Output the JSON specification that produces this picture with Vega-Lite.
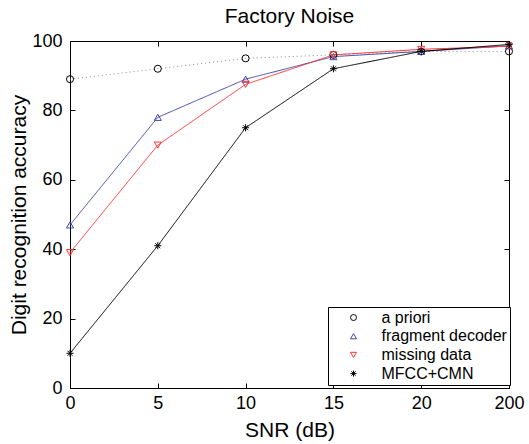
{
  "$schema": "https://vega.github.io/schema/vega-lite/v6.json",
  "width": 439,
  "height": 347,
  "autosize": {"type": "none"},
  "padding": {"left": 70, "top": 41, "right": 20, "bottom": 56},
  "title": {"text": "Factory Noise", "fontSize": 21, "fontWeight": "normal", "font": "Liberation Sans", "color": "black", "offset": 5},
  "config": {
    "font": "Liberation Sans",
    "view": {"stroke": "black", "strokeWidth": 1},
    "axis": {"grid": false, "domain": false, "offset": -5, "tickSize": 5, "zindex": 1, "tickColor": "black", "labelColor": "black", "titleColor": "black", "labelFontSize": 18, "titleFontSize": 21, "titleFontWeight": "normal", "labelFont": "Liberation Sans", "titleFont": "Liberation Sans"}
  },
  "data": {"values": [
    {"snr": 0, "acc": 89, "series": "a priori"},
    {"snr": 5, "acc": 92, "series": "a priori"},
    {"snr": 10, "acc": 95, "series": "a priori"},
    {"snr": 15, "acc": 96, "series": "a priori"},
    {"snr": 20, "acc": 97, "series": "a priori"},
    {"snr": 200, "acc": 97, "series": "a priori"},
    {"snr": 0, "acc": 47, "series": "fragment decoder"},
    {"snr": 5, "acc": 78, "series": "fragment decoder"},
    {"snr": 10, "acc": 89, "series": "fragment decoder"},
    {"snr": 15, "acc": 95.5, "series": "fragment decoder"},
    {"snr": 20, "acc": 97, "series": "fragment decoder"},
    {"snr": 200, "acc": 98.6, "series": "fragment decoder"},
    {"snr": 0, "acc": 39, "series": "missing data"},
    {"snr": 5, "acc": 70, "series": "missing data"},
    {"snr": 10, "acc": 87.5, "series": "missing data"},
    {"snr": 15, "acc": 96, "series": "missing data"},
    {"snr": 20, "acc": 97.6, "series": "missing data"},
    {"snr": 200, "acc": 98.5, "series": "missing data"},
    {"snr": 0, "acc": 10, "series": "MFCC+CMN"},
    {"snr": 5, "acc": 41, "series": "MFCC+CMN"},
    {"snr": 10, "acc": 75, "series": "MFCC+CMN"},
    {"snr": 15, "acc": 92, "series": "MFCC+CMN"},
    {"snr": 20, "acc": 97, "series": "MFCC+CMN"},
    {"snr": 200, "acc": 99, "series": "MFCC+CMN"}
  ]},
  "resolve": {"axis": {"x": "independent", "y": "independent"}, "scale": {"color": "independent", "shape": "independent"}},
  "layer": [
    {
      "mark": {"type": "line", "strokeWidth": 1},
      "encoding": {
        "x": {"field": "snr", "type": "ordinal", "scale": {"type": "point", "padding": 0, "domain": [0, 5, 10, 15, 20, 200]}, "axis": {"orient": "bottom", "title": "SNR (dB)", "labelAngle": 0, "labelPadding": 6, "titlePadding": 7}},
        "y": {"field": "acc", "type": "quantitative", "scale": {"domain": [0, 100], "nice": false}, "axis": {"orient": "left", "title": "Digit recognition accuracy", "values": [0, 20, 40, 60, 80, 100], "labelPadding": 8, "titlePadding": 2}},
        "color": {"field": "series", "type": "nominal", "scale": {"domain": ["a priori", "fragment decoder", "missing data", "MFCC+CMN"], "range": ["#8c8c8c", "#4048a8", "#ff3333", "#000000"]}, "legend": null},
        "strokeDash": {"field": "series", "type": "nominal", "scale": {"domain": ["a priori", "fragment decoder", "missing data", "MFCC+CMN"], "range": [[1, 3], [1, 0], [1, 0], [1, 0]]}, "legend": null}
      }
    },
    {
      "mark": {"type": "point", "filled": false, "strokeWidth": 1, "opacity": 1},
      "encoding": {
        "x": {"field": "snr", "type": "ordinal", "axis": {"orient": "top", "labels": false, "title": null}},
        "y": {"field": "acc", "type": "quantitative", "axis": {"orient": "right", "labels": false, "title": null, "values": [0, 20, 40, 60, 80, 100]}},
        "color": {"field": "series", "type": "nominal", "scale": {"domain": ["a priori", "fragment decoder", "missing data", "MFCC+CMN"], "range": ["#000000", "#4048a8", "#ff3333", "#000000"]},
          "legend": {"title": null, "orient": "none", "legendX": 258, "legendY": 266, "strokeColor": "black", "fillColor": "white", "padding": 2.5, "labelFontSize": 16, "labelColor": "black", "rowPadding": 2.7, "symbolSize": 36, "symbolStrokeWidth": 1, "labelOffset": 20, "symbolOffset": 15}},
        "shape": {"field": "series", "type": "nominal", "scale": {"domain": ["a priori", "fragment decoder", "missing data", "MFCC+CMN"], "range": ["circle", "triangle-up", "triangle-down", "M-1,0L1,0M0,-1L0,1M-0.7,-0.7L0.7,0.7M-0.7,0.7L0.7,-0.7"]},
          "legend": {"title": null, "orient": "none", "legendX": 258, "legendY": 266, "strokeColor": "black", "fillColor": "white", "padding": 2.5, "labelFontSize": 16, "labelColor": "black", "rowPadding": 2.7, "symbolSize": 36, "symbolStrokeWidth": 1, "labelOffset": 20, "symbolOffset": 15}},
        "size": {"value": 50}
      }
    }
  ]
}
